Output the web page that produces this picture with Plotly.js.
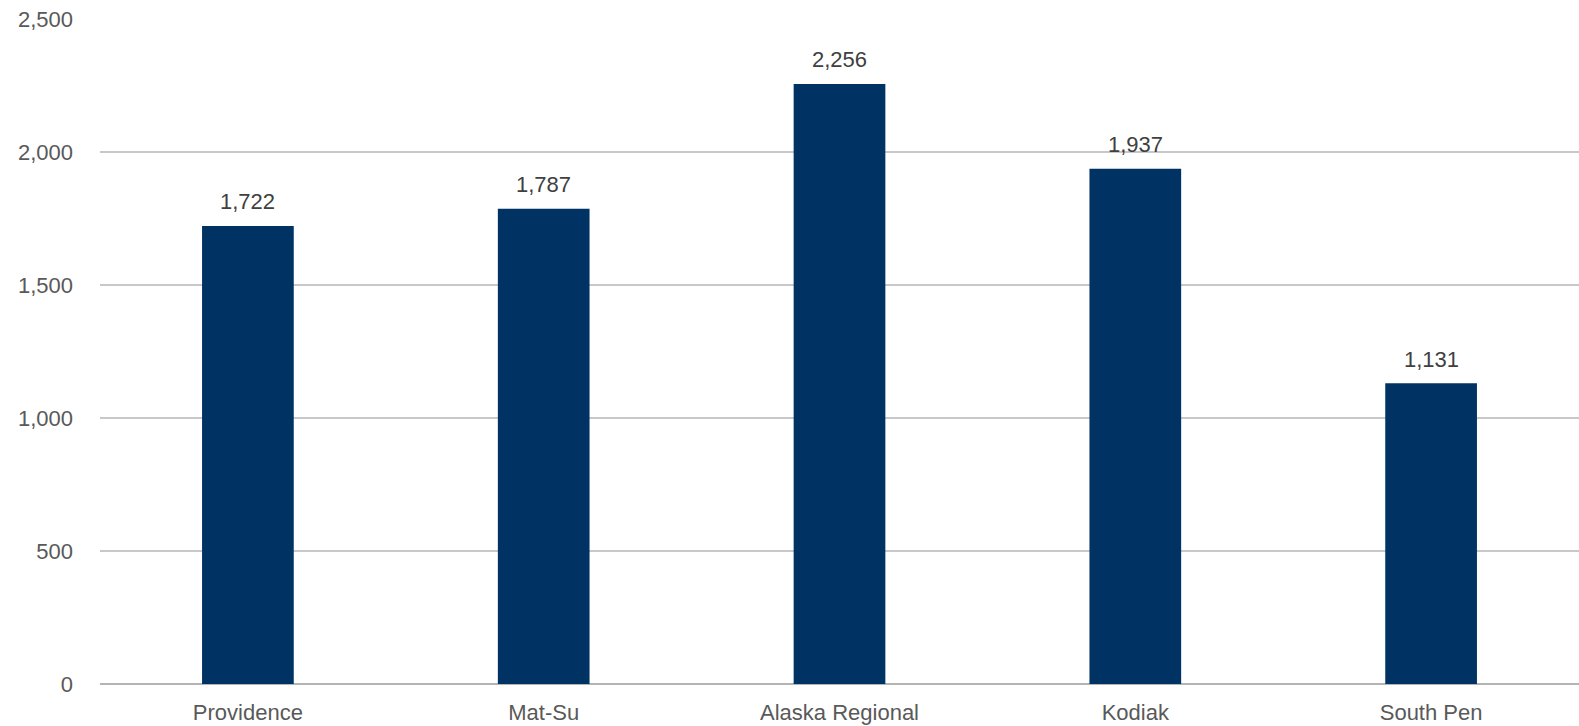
<!DOCTYPE html>
<html>
<head>
<meta charset="utf-8">
<script src="https://cdn.plot.ly/plotly-3.0.1.min.js"></script>
<style>html,body{margin:0;padding:0;background:#fff;}#chart{width:1579px;height:726px;}</style>
</head>
<body>
<div id="chart"></div>
<script>
const categories = ["Providence", "Mat-Su", "Alaska Regional", "Kodiak", "South Pen"];
const values = [1722, 1787, 2256, 1937, 1131];
const yTicks = [0, 500, 1000, 1500, 2000, 2500];
const yTickLabels = ["0", "500", "1,000", "1,500", "2,000", "2,500"];

const fontFam = "'Liberation Sans', Arial, sans-serif";
const trace = {
  type: "bar",
  x: categories,
  y: values,
  marker: {color: "#003263"},
  hoverinfo: "x+y"
};
const annotations = categories.map((c, i) => ({
  x: c, y: values[i], xref: "x", yref: "y",
  text: values[i].toLocaleString("en-US"),
  showarrow: false, yanchor: "middle", xanchor: "center",
  yshift: 24,
  font: {family: fontFam, size: 22, color: "#404040"}
}));
const layout = {
  width: 1579, height: 726,
  margin: {l: 100, r: 0, t: 19, b: 42},
  paper_bgcolor: "#fff", plot_bgcolor: "#fff",
  bargap: 0.69,
  showlegend: false,
  annotations: annotations,
  xaxis: {
    type: "category",
    tickfont: {family: fontFam, size: 22, color: "#595959"},
    showgrid: false, showline: false, ticks: "", zeroline: false,
    ticklabelstandoff: 13
  },
  yaxis: {
    range: [0, 2500],
    tickvals: yTicks, ticktext: yTickLabels,
    tickfont: {family: fontFam, size: 22, color: "#595959"},
    showgrid: true, gridcolor: "#c8c8c8", gridwidth: 1.5,
    zeroline: true, zerolinecolor: "#b4b4b4", zerolinewidth: 2,
    showline: false, ticks: "",
    ticklabelstandoff: 26
  }
};
Plotly.newPlot("chart", [trace], layout, {staticPlot: true});
</script>
</body>
</html>
